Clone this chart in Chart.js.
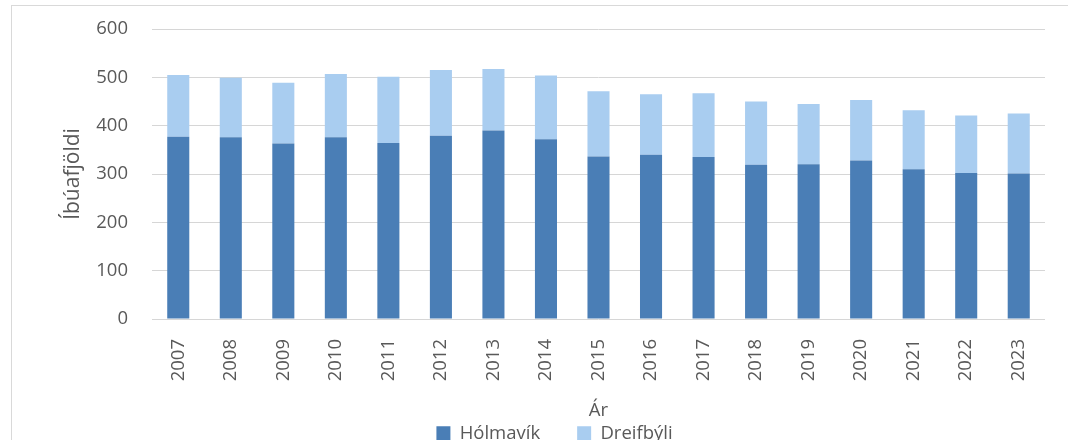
<!DOCTYPE html>
<html>
<head>
<meta charset="utf-8">
<script src="https://cdn.jsdelivr.net/npm/chart.js@4/dist/chart.umd.min.js"></script>
<style>
  html, body { margin: 0; padding: 0; background: #fff; overflow: hidden; }
  #wrap { position: relative; width: 1068px; height: 440px; overflow: hidden; }
  #frame { position: absolute; left: 11px; top: 5px; width: 1200px; height: 600px; border: 1px solid #d9d9d9; box-sizing: border-box; }
  canvas { position: absolute; left: 0; top: 0; }
</style>
</head>
<body>
<div id="wrap">
  <div id="frame"></div>
  <canvas id="c" width="1068" height="440"></canvas>
</div>
<script>
const years = ['2007','2008','2009','2010','2011','2012','2013','2014','2015','2016','2017','2018','2019','2020','2021','2022','2023'];
const holmavik = [377, 376, 363, 376, 364, 379, 390, 372, 336, 340, 335, 319, 320, 328, 310, 302, 301];
const dreifbyli = [128, 123, 126, 131, 137, 136, 127, 132, 135, 125, 132, 131, 125, 125, 122, 119, 124];
const seriesNames = ['Hólmavík', 'Dreifbýli'];
const yAxisTitle = 'Íbúafjöldi';
const xAxisTitle = 'Ár';

const FONT = "'Open Sans', 'DejaVu Sans', sans-serif";
const TEXT = '#595959';

new Chart(document.getElementById('c'), {
  type: 'bar',
  data: {
    labels: years,
    datasets: [
      { label: seriesNames[0], data: holmavik, backgroundColor: '#4a7eb6', borderWidth: 0 },
      { label: seriesNames[1], data: dreifbyli, backgroundColor: '#a9cdf0', borderWidth: 0 }
    ]
  },
  options: {
    responsive: false,
    animation: false,
    devicePixelRatio: 1,
    layout: { padding: { left: 64, right: 23, top: 29, bottom: 0 } },
    datasets: { bar: { categoryPercentage: 1, barPercentage: 0.42 } },
    plugins: {
      legend: {
        position: 'bottom',
        maxHeight: 53,
        labels: {
          font: { family: FONT, size: 18.5 },
          color: TEXT,
          boxWidth: 14,
          boxHeight: 14,
          padding: 37
        }
      },
      tooltip: { enabled: false }
    },
    scales: {
      x: {
        stacked: true,
        grid: { display: false },
        border: { display: false },
        ticks: {
          font: { family: FONT, size: 18.5 },
          color: TEXT,
          minRotation: 90,
          maxRotation: 90,
          padding: 12
        },
        title: {
          display: true,
          text: xAxisTitle,
          font: { family: FONT, size: 18.5 },
          color: TEXT,
          padding: { top: 0, bottom: -35 }
        },
        afterFit: (s) => { s.height = 68; }
      },
      y: {
        stacked: true,
        min: 0,
        max: 600,
        grid: { color: '#d6d6d6', drawTicks: false, lineWidth: 1 },
        border: { display: false },
        ticks: {
          stepSize: 100,
          font: { family: FONT, size: 18.5 },
          color: TEXT,
          padding: 24
        },
        title: {
          display: true,
          text: yAxisTitle,
          font: { family: FONT, size: 21 },
          color: TEXT,
          padding: { top: -4, bottom: 0 }
        },
        afterFit: (s) => { s.width = 88; s.paddingTop = 12; s.paddingBottom = 12; }
      }
    }
  }
});
</script>
</body>
</html>
